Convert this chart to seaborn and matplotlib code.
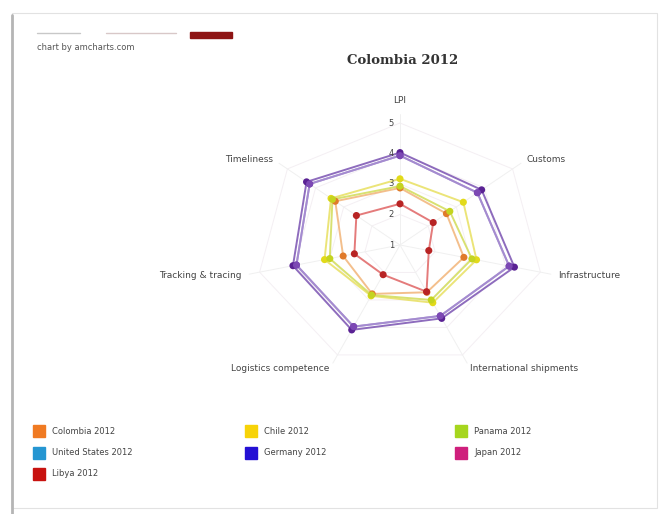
import numpy as np
import pandas as pd
import matplotlib.pyplot as plt
import seaborn as sns
from matplotlib.patches import Rectangle
from matplotlib.lines import Line2D

# radar axes, clockwise from the top
categories = ["LPI", "Customs", "Infrastructure", "International shipments",
              "Logistics competence", "Tracking & tracing", "Timeliness"]

# series values (scale starts at 1 in the centre)
colombia = [2.87, 2.65, 2.82, 2.72, 2.78, 2.62, 3.30]
chile = [3.17, 3.25, 3.18, 3.10, 2.85, 3.15, 3.45]
panama = [2.93, 2.77, 3.05, 3.00, 2.82, 3.00, 3.40]
united_states = [3.93, 3.75, 4.11, 3.58, 3.97, 3.95, 4.21]
germany = [4.03, 3.90, 4.26, 3.67, 4.09, 4.05, 4.32]
japan = [3.93, 3.75, 4.11, 3.58, 3.97, 3.95, 4.21]
libya = [2.35, 2.18, 1.82, 2.70, 2.08, 2.30, 2.55]

countries = ["Colombia 2012", "Chile 2012", "Panama 2012", "United States 2012",
             "Germany 2012", "Japan 2012", "Libya 2012"]
series = [colombia, chile, panama, united_states, germany, japan, libya]
tick_values = [1, 2, 3, 4, 5]

legend_colors = ["#f07a22", "#f7d308", "#a6d61e", "#2596d2", "#2410d4", "#cf1f7c", "#c8120f"]
# colours as they come out in the picture
line_colors = ["#f2b478", "#e8e060", "#d2dc58", "#9a80c8", "#7a52b2", "#a48ad0", "#e06464"]
dot_colors = ["#e07a2a", "#e2da1a", "#c4d420", "#7040ac", "#5a2294", "#7c48b4", "#b82424"]

n = len(categories)
rmin = 1

rows = []
for name, vals in zip(countries, series):
    for k in range(n + 1):
        v = vals[k % n]
        th = 2 * np.pi * (k % n) / n
        rows.append({"country": name, "k": k, "value": v,
                     "x": (v - rmin) * np.sin(th), "y": (v - rmin) * np.cos(th)})
df = pd.DataFrame(rows)

sns.set_style("white")
plt.rcParams["font.family"] = ["DejaVu Sans"]

fig = plt.figure(figsize=(6.62, 5.14), dpi=100)

# screenshot frame
fig.patches.append(Rectangle((12 / 662, 6 / 514), 645 / 662, 495 / 514, transform=fig.transFigure,
                             fill=False, edgecolor="#e2e2e2", linewidth=0.8))
fig.lines.append(Line2D([12 / 662, 12 / 662], [0, 499 / 514], transform=fig.transFigure,
                        color="#b5b5b5", linewidth=2))

ax = fig.add_axes([184 / 662, 116.5 / 514, 432 / 662, 305 / 514])
ax.set_xlim(-6, 6)
ax.set_ylim(-5, 5)
ax.axis("off")

# grid rings and spokes
angles = 2 * np.pi * np.arange(n + 1) / n
for r in range(1, 5):
    ax.plot(r * np.sin(angles), r * np.cos(angles), color="#f4eff3", lw=0.7, zorder=0)
for th in angles[:-1]:
    ax.plot([0, 4.3 * np.sin(th)], [0, 4.3 * np.cos(th)], color="#f0f0f0", lw=0.7, zorder=0)

sns.lineplot(data=df, x="x", y="y", hue="country", hue_order=countries,
             palette=dict(zip(countries, line_colors)), sort=False, estimator=None,
             linewidth=1.4, alpha=0.85, legend=False, ax=ax)
sns.scatterplot(data=df[df["k"] < n], x="x", y="y", hue="country", hue_order=countries,
                palette=dict(zip(countries, dot_colors)), s=26, linewidth=0,
                legend=False, ax=ax, zorder=5)

# value labels along the first axis
for v in tick_values:
    ax.text(-0.24, v - rmin, str(v), ha="center", va="center", fontsize=6, color="#444444")

# category labels
for k, cat in enumerate(categories):
    th = 2 * np.pi * k / n
    x, y = 4.5 * np.sin(th), 4.5 * np.cos(th)
    if k == 0:
        ax.text(x, y + 0.1, cat, ha="center", va="bottom", fontsize=6.5, color="#444444")
    else:
        ha = "left" if x > 0 else "right"
        ax.text(x, y, cat, ha=ha, va="center", fontsize=6.5, color="#444444")

# header
fig.text(403 / 662, 1 - 60 / 514, "Colombia 2012", ha="center", va="center",
         fontsize=9.5, fontweight="bold", family="DejaVu Serif", color="#333333")
fig.text(37 / 662, 1 - 48 / 514, "chart by amcharts.com", ha="left", va="center",
         fontsize=6, color="#555555")
fig.lines.append(Line2D([37 / 662, 80 / 662], [1 - 33 / 514] * 2, transform=fig.transFigure,
                        color="#c8c8c8", linewidth=1))
fig.lines.append(Line2D([106 / 662, 176 / 662], [1 - 33 / 514] * 2, transform=fig.transFigure,
                        color="#d8c8c8", linewidth=1))
fig.patches.append(Rectangle((190 / 662, 1 - 38 / 514), 42 / 662, 6 / 514,
                             transform=fig.transFigure, color="#8e1414"))

# legend, three per row
for i, (name, col) in enumerate(zip(countries, legend_colors)):
    cx = [33, 245, 455][i % 3]
    cy = 431 + 21.5 * (i // 3)
    fig.patches.append(Rectangle((cx / 662, 1 - (cy + 6) / 514), 12 / 662, 12 / 514,
                                 transform=fig.transFigure, color=col))
    fig.text((cx + 19) / 662, 1 - cy / 514, name, ha="left", va="center",
             fontsize=6, color="#444444")

plt.savefig("out.png", dpi=100)
